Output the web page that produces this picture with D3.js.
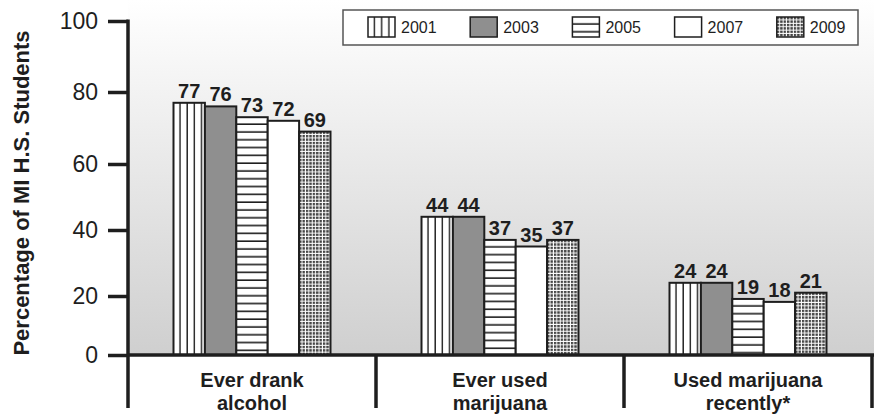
<!DOCTYPE html>
<html>
<head>
<meta charset="utf-8">
<script src="https://cdn.jsdelivr.net/npm/d3@7"></script>
<style>
  body { margin: 0; background: #fff; }
  svg { display: block; font-family: Arial, "Liberation Sans", Helvetica, sans-serif; }
</style>
</head>
<body>
<svg id="chart" width="874" height="415"></svg>
<script>
//data
var CATEGORIES = ["Ever drank alcohol", "Ever used marijuana", "Used marijuana recently*"];
var CATEGORY_LINES = [["Ever drank", "alcohol"], ["Ever used", "marijuana"], ["Used marijuana", "recently*"]];
var YEARS = ["2001", "2003", "2005", "2007", "2009"];
var VALUES_2001 = [77, 44, 24];
var VALUES_2003 = [76, 44, 24];
var VALUES_2005 = [73, 37, 19];
var VALUES_2007 = [72, 35, 18];
var VALUES_2009 = [69, 37, 21];
var Y_TICKS = [0, 20, 40, 60, 80, 100];
var Y_LABEL = "Percentage of MI H.S. Students";

//layout
var WIDTH = 874;
var HEIGHT = 415;
var PLOT_LEFT = 128;
var PLOT_RIGHT = 872;
var BASE_Y = 355;
var BOTTOM_Y = 408;
var GROUP_WIDTH = 157;
var INK = "#1e1e1e";

var series = YEARS.map((y, i) => ({
    year: y,
    values: [VALUES_2001, VALUES_2003, VALUES_2005, VALUES_2007, VALUES_2009][i]
}));

var svg = d3.select("#chart");

// the printed axis is slightly uneven, so the scale follows its tick marks
var yScale = d3.scaleLinear()
    .domain(Y_TICKS)
    .range([BASE_Y, 296, 230, 164, 92, 21]);

var xScale = d3.scaleBand()
    .domain(CATEGORIES)
    .range([PLOT_LEFT, PLOT_RIGHT]);

var x1Scale = d3.scaleBand()
    .domain(YEARS)
    .range([0, GROUP_WIDTH]);

function makeDefs() {
    let defs = svg.append("defs");

    let grad = defs.append("linearGradient")
        .attr("id", "bg")
        .attr("gradientUnits", "userSpaceOnUse")
        .attr("x1", 0).attr("y1", 0)
        .attr("x2", 0).attr("y2", BASE_Y);
    grad.append("stop").attr("offset", "0%").attr("stop-color", "#ffffff");
    grad.append("stop").attr("offset", "100%").attr("stop-color", "#cfcfcf");

    //vertical stripes
    let p1 = defs.append("pattern")
        .attr("id", "p2001")
        .attr("patternUnits", "userSpaceOnUse")
        .attr("width", 7.2).attr("height", 10);
    p1.append("rect").attr("width", 7.2).attr("height", 10).attr("fill", "#fff");
    p1.append("rect").attr("x", 5.8).attr("width", 1.4).attr("height", 10).attr("fill", INK);

    //horizontal stripes
    let p3 = defs.append("pattern")
        .attr("id", "p2005")
        .attr("patternUnits", "userSpaceOnUse")
        .attr("width", 10).attr("height", 7.8);
    p3.append("rect").attr("width", 10).attr("height", 7.8).attr("fill", "#fff");
    p3.append("rect").attr("y", 6.2).attr("width", 10).attr("height", 1.7).attr("fill", INK);

    //fine grid
    let p5 = defs.append("pattern")
        .attr("id", "p2009")
        .attr("patternUnits", "userSpaceOnUse")
        .attr("width", 3.4).attr("height", 3.4);
    p5.append("rect").attr("width", 3.4).attr("height", 3.4).attr("fill", "#fff");
    p5.append("rect").attr("width", 2.4).attr("height", 2.4).attr("fill", "#444");
}

var FILLS = {
    "2001": "url(#p2001)",
    "2003": "#8f8f8f",
    "2005": "url(#p2005)",
    "2007": "#ffffff",
    "2009": "url(#p2009)"
};

function drawBackground() {
    svg.append("rect")
        .attr("x", PLOT_LEFT)
        .attr("y", 0)
        .attr("width", WIDTH - PLOT_LEFT)
        .attr("height", BASE_Y)
        .attr("fill", "url(#bg)");
}

function drawBars() {
    let groups = svg.selectAll(".group")
        .data(CATEGORIES)
        .enter()
        .append("g")
        .attr("class", "group")
        .attr("transform", d => `translate(${xScale(d) + (xScale.bandwidth() - GROUP_WIDTH) / 2}, 0)`);

    groups.each(function(cat, ci) {
        let g = d3.select(this);
        let bars = g.selectAll(".bar")
            .data(series.map(s => ({year: s.year, value: s.values[ci]})))
            .enter()
            .append("g")
            .attr("class", "bar")
            .attr("transform", d => `translate(${x1Scale(d.year)}, ${yScale(d.value)})`);

        bars.append("rect")
            .attr("width", x1Scale.bandwidth())
            .attr("height", d => BASE_Y - yScale(d.value))
            .attr("fill", d => FILLS[d.year])
            .attr("stroke", INK)
            .attr("stroke-width", 2);

        bars.append("text")
            .text(d => d.value)
            .attr("x", x1Scale.bandwidth() / 2)
            .attr("y", -5)
            .attr("text-anchor", "middle")
            .attr("font-size", 20)
            .attr("font-weight", "bold")
            .attr("fill", INK);
    });
}

function drawAxes() {
    let yAxis = d3.axisLeft(yScale)
        .tickValues(Y_TICKS)
        .tickSize(20)
        .tickPadding(10)
        .tickFormat(d => "" + d);

    let ax = svg.append("g")
        .attr("transform", `translate(${PLOT_LEFT}, 0)`)
        .call(yAxis);
    ax.select(".domain").remove();
    ax.selectAll(".tick line")
        .attr("stroke", INK)
        .attr("stroke-width", 3.5);
    ax.selectAll(".tick text")
        .attr("font-size", 23)
        .attr("font-family", "Arial, 'Liberation Sans', sans-serif")
        .attr("fill", INK);

    //vertical axis line runs down through the label area
    svg.append("line")
        .attr("x1", PLOT_LEFT).attr("x2", PLOT_LEFT)
        .attr("y1", yScale(100) - 1.5)
        .attr("y2", BOTTOM_Y)
        .attr("stroke", INK)
        .attr("stroke-width", 3.5);

    //baseline
    svg.append("line")
        .attr("x1", PLOT_LEFT).attr("x2", WIDTH)
        .attr("y1", yScale(0)).attr("y2", yScale(0))
        .attr("stroke", INK)
        .attr("stroke-width", 3.5);

    //category separators
    svg.selectAll(".sep")
        .data(CATEGORIES)
        .enter()
        .append("line")
        .attr("class", "sep")
        .attr("x1", d => xScale(d) + xScale.bandwidth())
        .attr("x2", d => xScale(d) + xScale.bandwidth())
        .attr("y1", yScale(0))
        .attr("y2", BOTTOM_Y)
        .attr("stroke", INK)
        .attr("stroke-width", 3.5);

    //category labels
    let labels = svg.selectAll(".cat")
        .data(CATEGORIES)
        .enter()
        .append("text")
        .attr("class", "cat")
        .attr("text-anchor", "middle")
        .attr("font-size", 20)
        .attr("font-weight", "bold")
        .attr("fill", INK);
    labels.each(function(d, i) {
        d3.select(this).selectAll("tspan")
            .data(CATEGORY_LINES[i])
            .enter()
            .append("tspan")
            .attr("x", xScale(d) + xScale.bandwidth() / 2)
            .attr("y", (t, j) => 387 + j * 23)
            .text(t => t);
    });

    //y title
    svg.append("text")
        .text(Y_LABEL)
        .attr("transform", "translate(29, 193) rotate(-90)")
        .attr("text-anchor", "middle")
        .attr("font-size", 22)
        .attr("font-weight", "bold")
        .attr("fill", INK);
}

function drawLegend() {
    let lg = svg.append("g");
    lg.append("rect")
        .attr("x", 343).attr("y", 10)
        .attr("width", 515).attr("height", 35)
        .attr("fill", "#fff")
        .attr("stroke", "#555")
        .attr("stroke-width", 1.5);

    let items = lg.selectAll(".item")
        .data(YEARS)
        .enter()
        .append("g")
        .attr("class", "item")
        .attr("transform", (d, i) => `translate(${368 + i * 102.2}, 17)`);

    items.append("rect")
        .attr("width", 27)
        .attr("height", 20)
        .attr("fill", d => FILLS[d])
        .attr("stroke", INK)
        .attr("stroke-width", 1.5);

    items.append("text")
        .text(d => d)
        .attr("x", 33)
        .attr("y", 16)
        .attr("font-size", 16)
        .attr("fill", INK);
}

function main() {
    makeDefs();
    drawBackground();
    drawBars();
    drawAxes();
    drawLegend();
}

main();
</script>
</body>
</html>
